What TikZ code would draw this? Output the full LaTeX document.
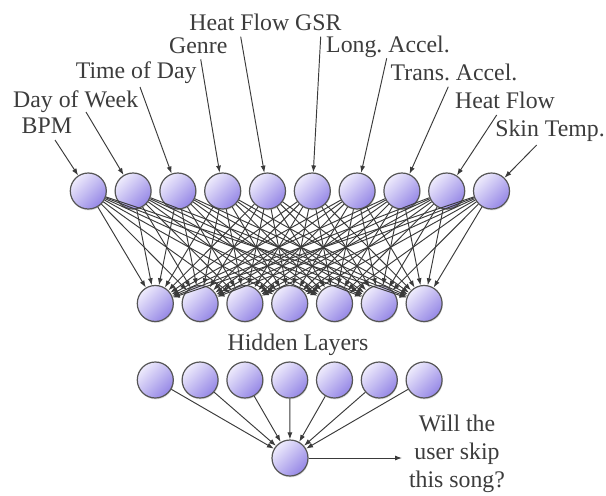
\documentclass[tikz,border=0pt]{standalone}
\usepackage{fontspec}
\setmainfont{Liberation Serif}
\newfontfamily\labfont{Liberation Serif}
\usetikzlibrary{arrows.meta,shadows}
\definecolor{txtgray}{HTML}{3C3C3C}
\definecolor{linegray}{HTML}{3A3A3A}
\definecolor{nlight}{HTML}{EEEBFC}
\definecolor{ndark}{HTML}{9587E6}
\definecolor{nborder}{HTML}{555555}
\frenchspacing
\begin{document}
\begin{tikzpicture}[x=1pt,y=-1pt,
  neuron/.style={circle,minimum size=36pt,inner sep=0pt,draw=nborder,line width=1.2pt,
    top color=nlight,bottom color=ndark,shading angle=45,
    drop shadow={opacity=0.25,shadow xshift=0.6pt,shadow yshift=-1.4pt}},
  lab/.style={font=\labfont\fontsize{23.8}{28}\selectfont,text=txtgray,inner sep=0pt,anchor=base},
  conn/.style={draw=linegray,line width=0.95pt,-{Latex[length=7pt,width=5pt]}}]
\useasboundingbox (0,0) rectangle (606,496);
% input layer
\foreach \i in {1,...,10}{
  \node[neuron] (t\i) at ({88.3+44.8*(\i-1)},191) {};
}
% hidden layer 1
\foreach \j in {1,...,7}{
  \node[neuron] (h\j) at ({155.3+44.8*(\j-1)},303.5) {};
}
% hidden layer 2
\foreach \j in {1,...,7}{
  \node[neuron] (g\j) at ({155.3+44.8*(\j-1)},380) {};
}
\node[neuron] (out) at (290,458) {};
% labels
\node[lab] (l1) at (46.8,133) {BPM};
\node[lab] (l2) at (75.7,107) {Day of Week};
\node[lab] (l3) at (136.2,78.5) {Time of Day};
\node[lab] (l4) at (198.3,53) {Genre};
\node[lab] (l5) at (265.5,30.5) {Heat Flow GSR};
\node[lab] (l7) at (388,52) {Long. Accel.};
\node[lab] (l8) at (454,80) {Trans. Accel.};
\node[lab] (l9) at (505,108) {Heat Flow};
\node[lab] (l10) at (550,136) {Skin Temp.};
\node[lab] (hid) at (298,350) {Hidden Layers};
\node[lab,anchor=center,align=center] (ans) at (457,454) {Will the\\user skip\\this song?};
% arrow start points
\coordinate (s1) at (55,140);
\coordinate (s2) at (86,112);
\coordinate (s3) at (140,87);
\coordinate (s4) at (200.7,59.3);
\coordinate (s5) at (240.7,36.7);
\coordinate (s6) at (320.7,36.7);
\coordinate (s7) at (386.7,58.3);
\coordinate (s8) at (448.3,86.7);
\coordinate (s9) at (496.7,115);
\coordinate (s10) at (536.7,145);
\foreach \i in {1,...,10}{
  \draw[conn] (s\i) -- (t\i);
}
% full connections input -> hidden 1
\foreach \i in {1,...,10}{
  \foreach \j in {1,...,7}{
    \draw[conn] (t\i) -- (h\j);
  }
}
% hidden 2 -> output
\foreach \j in {1,...,7}{
  \draw[conn] (g\j) -- (out);
}
\coordinate (aend) at (402,458);
\draw[conn] (out) -- (aend);
\end{tikzpicture}
\end{document}
